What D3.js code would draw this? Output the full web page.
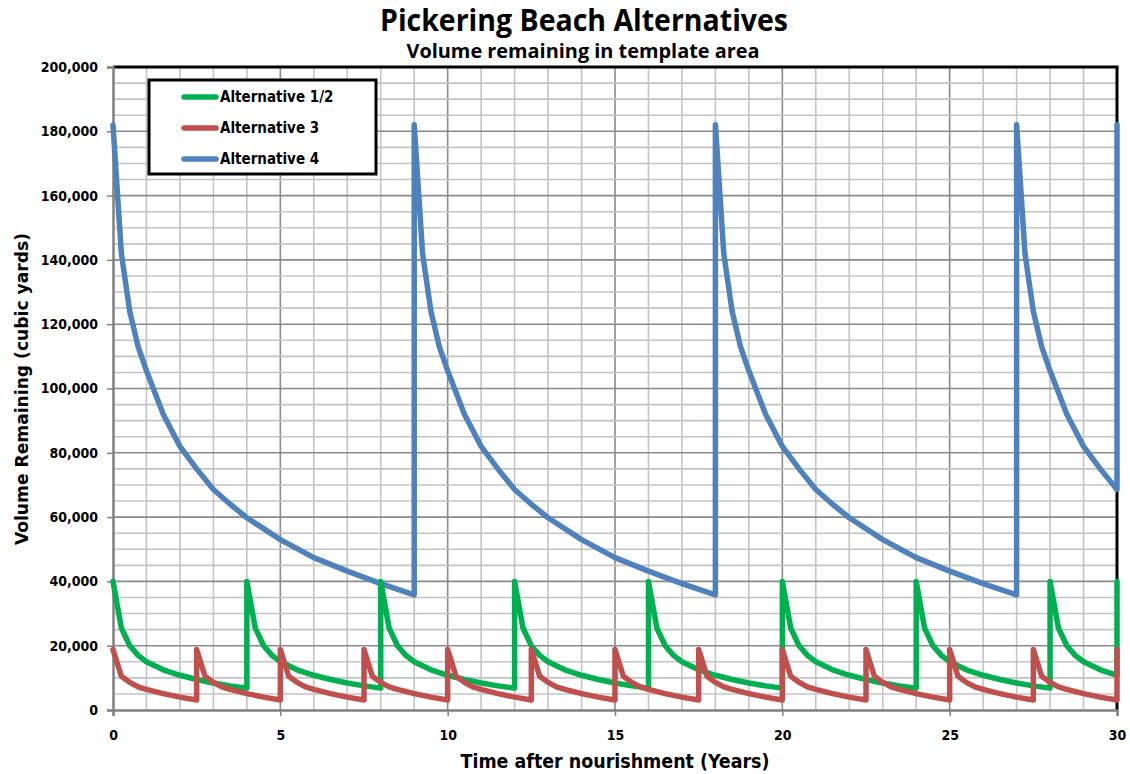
<!DOCTYPE html>
<html>
<head>
<meta charset="utf-8">
<script src="https://cdn.jsdelivr.net/npm/d3@7"></script>
<style>
  html, body { margin: 0; padding: 0; background: #ffffff; }
  svg { display: block; }
</style>
</head>
<body>
<svg id="chart" width="1130" height="774"></svg>
<script>
// ---------- data ----------
const chartTitle = "Pickering Beach Alternatives";
const chartSubtitle = "Volume remaining in template area";
const xAxisTitle = "Time after nourishment (Years)";
const yAxisTitle = "Volume Remaining (cubic yards)";

const seriesNames = ["Alternative 1/2", "Alternative 3", "Alternative 4"];
const seriesColors = ["#00B050", "#C0504D", "#4F81BD"];

const xTickValues = [0, 5, 10, 15, 20, 25, 30];
const yTickValues = [0, 20000, 40000, 60000, 80000, 100000, 120000, 140000, 160000, 180000, 200000];

// Alternative 1/2 : [years, cubic yards]
const alt12 = [
  [0,40000],[0.25,25500],[0.5,20000],[0.75,17000],[1,15000],[1.5,12500],[2,10800],[2.5,9500],[3,8400],[3.5,7500],[4,6800],
  [4,40000],[4.25,25500],[4.5,20000],[4.75,17000],[5,15000],[5.5,12500],[6,10800],[6.5,9500],[7,8400],[7.5,7500],[8,6800],
  [8,40000],[8.25,25500],[8.5,20000],[8.75,17000],[9,15000],[9.5,12500],[10,10800],[10.5,9500],[11,8400],[11.5,7500],[12,6800],
  [12,40000],[12.25,25500],[12.5,20000],[12.75,17000],[13,15000],[13.5,12500],[14,10800],[14.5,9500],[15,8400],[15.5,7500],[16,6800],
  [16,40000],[16.25,25500],[16.5,20000],[16.75,17000],[17,15000],[17.5,12500],[18,10800],[18.5,9500],[19,8400],[19.5,7500],[20,6800],
  [20,40000],[20.25,25500],[20.5,20000],[20.75,17000],[21,15000],[21.5,12500],[22,10800],[22.5,9500],[23,8400],[23.5,7500],[24,6800],
  [24,40000],[24.25,25500],[24.5,20000],[24.75,17000],[25,15000],[25.5,12500],[26,10800],[26.5,9500],[27,8400],[27.5,7500],[28,6800],
  [28,40000],[28.25,25500],[28.5,20000],[28.75,17000],[29,15000],[29.5,12500],[30,10800],[30,40000]
];

// Alternative 3 : [years, cubic yards]
const alt3 = [
  [0,18800],[0.25,10500],[0.5,8600],[0.75,7200],[1,6400],[1.5,5100],[2,4000],[2.5,3100],
  [2.5,18800],[2.75,10500],[3,8600],[3.25,7200],[3.5,6400],[4,5100],[4.5,4000],[5,3100],
  [5,18800],[5.25,10500],[5.5,8600],[5.75,7200],[6,6400],[6.5,5100],[7,4000],[7.5,3100],
  [7.5,18800],[7.75,10500],[8,8600],[8.25,7200],[8.5,6400],[9,5100],[9.5,4000],[10,3100],
  [10,18800],[10.25,10500],[10.5,8600],[10.75,7200],[11,6400],[11.5,5100],[12,4000],[12.5,3100],
  [12.5,18800],[12.75,10500],[13,8600],[13.25,7200],[13.5,6400],[14,5100],[14.5,4000],[15,3100],
  [15,18800],[15.25,10500],[15.5,8600],[15.75,7200],[16,6400],[16.5,5100],[17,4000],[17.5,3100],
  [17.5,18800],[17.75,10500],[18,8600],[18.25,7200],[18.5,6400],[19,5100],[19.5,4000],[20,3100],
  [20,18800],[20.25,10500],[20.5,8600],[20.75,7200],[21,6400],[21.5,5100],[22,4000],[22.5,3100],
  [22.5,18800],[22.75,10500],[23,8600],[23.25,7200],[23.5,6400],[24,5100],[24.5,4000],[25,3100],
  [25,18800],[25.25,10500],[25.5,8600],[25.75,7200],[26,6400],[26.5,5100],[27,4000],[27.5,3100],
  [27.5,18800],[27.75,10500],[28,8600],[28.25,7200],[28.5,6400],[29,5100],[29.5,4000],[30,3100],[30,18800]
];

// Alternative 4 : [years, cubic yards]
const alt4 = [
  [0,182000],[0.25,142000],[0.5,124000],[0.75,113000],[1,105500],[1.5,92000],[2,82000],[2.5,75000],[3,68600],[3.5,64000],[4,59800],[5,53000],[6,47400],[7,43200],[8,39300],[9,35800],
  [9,182000],[9.25,142000],[9.5,124000],[9.75,113000],[10,105500],[10.5,92000],[11,82000],[11.5,75000],[12,68600],[12.5,64000],[13,59800],[14,53000],[15,47400],[16,43200],[17,39300],[18,35800],
  [18,182000],[18.25,142000],[18.5,124000],[18.75,113000],[19,105500],[19.5,92000],[20,82000],[20.5,75000],[21,68600],[21.5,64000],[22,59800],[23,53000],[24,47400],[25,43200],[26,39300],[27,35800],
  [27,182000],[27.25,142000],[27.5,124000],[27.75,113000],[28,105500],[28.5,92000],[29,82000],[29.5,75000],[30,68600],[30,182000]
];

// ---------- drawing ----------
const svg = d3.select("#chart");
const plotLeft = 113, plotRight = 1117, plotTop = 67, plotBottom = 710;

const x = d3.scaleLinear().domain([0, 30]).range([plotLeft, plotRight]);
const y = d3.scaleLinear().domain([0, 200000]).range([plotBottom, plotTop]);

const fontMain = "'DejaVu Sans Condensed', 'DejaVu Sans', Verdana, sans-serif";
const fontTitle = "'Liberation Sans Narrow', 'Open Sans', 'Liberation Sans', Arial, sans-serif";

// grid
const g = svg.append("g");
g.selectAll("line.v").data(d3.range(1, 30)).enter().append("line")
  .attr("x1", d => x(d)).attr("x2", d => x(d)).attr("y1", plotTop).attr("y2", plotBottom)
  .attr("stroke", d => d % 5 === 0 ? "#8a8a8a" : "#c4c4c4").attr("stroke-width", 1.6);
g.selectAll("line.h").data(d3.range(5000, 200000, 5000)).enter().append("line")
  .attr("y1", d => y(d)).attr("y2", d => y(d)).attr("x1", plotLeft).attr("x2", plotRight)
  .attr("stroke", d => d % 20000 === 0 ? "#8a8a8a" : "#c4c4c4").attr("stroke-width", 1.6);

// plot border (top/right black)
svg.append("line").attr("x1", plotLeft).attr("x2", plotRight + 1.5).attr("y1", plotTop).attr("y2", plotTop)
  .attr("stroke", "#000").attr("stroke-width", 3);
svg.append("line").attr("x1", plotRight).attr("x2", plotRight).attr("y1", plotTop).attr("y2", plotBottom)
  .attr("stroke", "#000").attr("stroke-width", 3);

// axes
const yAxis = d3.axisLeft(y).tickValues(yTickValues).tickSize(6).tickPadding(9)
  .tickFormat(d3.format(","));
const xAxis = d3.axisBottom(x).tickValues(xTickValues).tickSize(6).tickPadding(14)
  .tickFormat(d3.format("d"));

const gy = svg.append("g").attr("transform", `translate(${plotLeft},0)`).call(yAxis);
const gx = svg.append("g").attr("transform", `translate(0,${plotBottom})`).call(xAxis);
[gy, gx].forEach(ax => {
  ax.select(".domain").attr("stroke", "#808080").attr("stroke-width", 2.5);
  ax.selectAll(".tick line").attr("stroke", "#808080").attr("stroke-width", 1.5);
  ax.selectAll(".tick text").attr("fill", "#000").attr("font-family", fontMain)
    .attr("font-weight", "bold").attr("font-size", 14);
});

// series lines
const line = d3.line().x(d => x(d[0])).y(d => y(d[1]));
const drawOrder = [[alt4, 2], [alt12, 0], [alt3, 1]];
drawOrder.forEach(([data, i]) => {
  svg.append("path").datum(data).attr("d", line)
    .attr("fill", "none").attr("stroke", seriesColors[i]).attr("stroke-width", 5.5)
    .attr("stroke-linejoin", "round").attr("stroke-linecap", "round");
});

// titles
svg.append("text").attr("x", 584).attr("y", 31).attr("text-anchor", "middle")
  .attr("font-family", fontTitle).attr("font-weight", "bold").attr("font-size", 30)
  .attr("textLength", 408).attr("lengthAdjust", "spacingAndGlyphs")
  .text(chartTitle);
svg.append("text").attr("x", 583).attr("y", 58).attr("text-anchor", "middle")
  .attr("font-family", fontTitle).attr("font-weight", "bold").attr("font-size", 19)
  .attr("textLength", 353).attr("lengthAdjust", "spacingAndGlyphs")
  .text(chartSubtitle);
svg.append("text").attr("x", 615).attr("y", 768).attr("text-anchor", "middle")
  .attr("font-family", fontMain).attr("font-weight", "bold").attr("font-size", 19)
  .attr("textLength", 309).attr("lengthAdjust", "spacingAndGlyphs")
  .text(xAxisTitle);
svg.append("text").attr("transform", "translate(28,389) rotate(-90)").attr("text-anchor", "middle")
  .attr("font-family", fontMain).attr("font-weight", "bold").attr("font-size", 18)
  .attr("textLength", 312).attr("lengthAdjust", "spacingAndGlyphs")
  .text(yAxisTitle);

// legend
const lg = svg.append("g");
lg.append("rect").attr("x", 149).attr("y", 80).attr("width", 227).attr("height", 94)
  .attr("fill", "#fff").attr("stroke", "#000").attr("stroke-width", 3);
const legY = [97, 128, 159];
seriesNames.forEach((name, i) => {
  lg.append("line").attr("x1", 184).attr("x2", 216).attr("y1", legY[i]).attr("y2", legY[i])
    .attr("stroke", seriesColors[i]).attr("stroke-width", 5.5).attr("stroke-linecap", "round");
  lg.append("text").attr("x", 220).attr("y", legY[i] + 5)
    .attr("font-family", fontMain).attr("font-weight", "bold").attr("font-size", 15)
    .text(name);
});
</script>
</body>
</html>
